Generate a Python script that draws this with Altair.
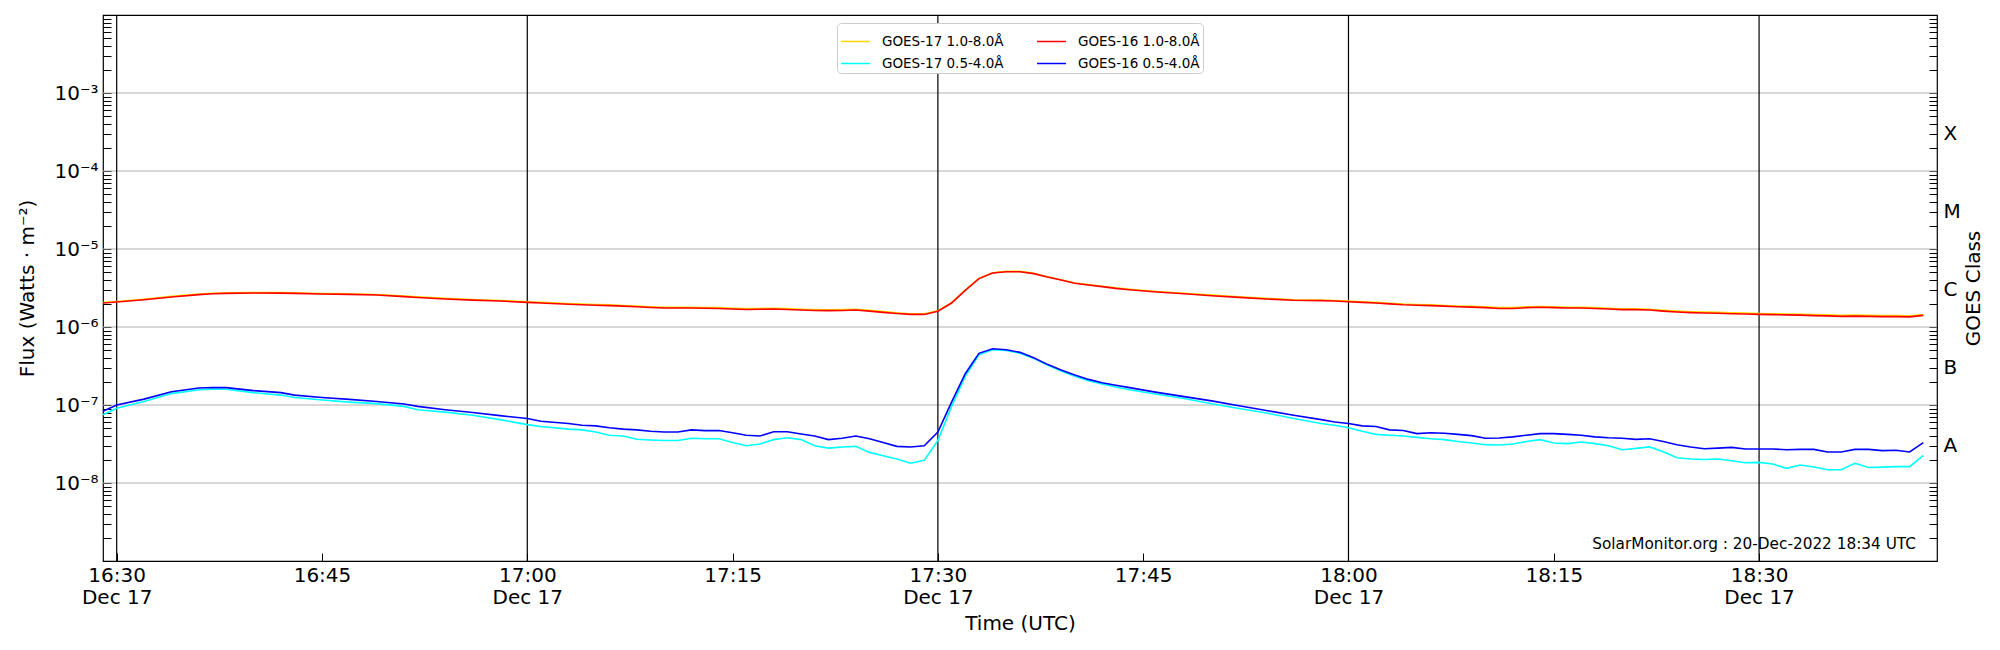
import altair as alt
import pandas as pd

# minutes after 16:30 UTC, 17 Dec 2022
minutes = [-1, 0, 2, 4, 6, 7, 8, 10, 12, 13, 15, 17, 19, 21, 22, 24, 26, 28, 30, 31, 33,
           34, 35, 36, 37, 38, 39, 40, 41, 42, 43, 44, 45, 46, 47, 48, 49, 50, 51, 52, 53,
           54, 55, 56, 57, 58, 59, 60, 61, 62, 63, 64, 65, 66,
           67, 68, 69, 70, 71, 72, 73, 74, 76, 78, 80, 82, 84, 86, 88,
           89, 90, 91, 92, 93, 94, 95, 96, 97, 98, 99, 100,
           101, 102, 103, 104, 105, 106, 107, 108, 109, 110, 111, 112, 113, 114, 115, 116,
           117, 118, 119, 120, 121, 122, 123, 124, 125, 126, 127, 128, 129, 130, 131, 132]

# flux in units of 1e-6 W/m^2
g17_long_e6 = [2.06, 2.12, 2.27, 2.47, 2.64, 2.71, 2.74, 2.77, 2.76, 2.74, 2.69, 2.66, 2.61, 2.49, 2.43, 2.33, 2.25, 2.19, 2.11, 2.07, 2.00,
               1.97, 1.94, 1.92, 1.89, 1.86, 1.82, 1.79, 1.79, 1.79, 1.78, 1.77, 1.74, 1.72, 1.73, 1.74, 1.72, 1.69, 1.67, 1.66, 1.67,
               1.69, 1.64, 1.58, 1.52, 1.48, 1.48, 1.61, 2.05, 2.97, 4.20, 4.96, 5.16, 5.16,
               4.87, 4.41, 4.04, 3.67, 3.49, 3.33, 3.17, 3.05, 2.85, 2.71, 2.56, 2.44, 2.33, 2.24, 2.22,
               2.19, 2.15, 2.11, 2.07, 2.02, 1.97, 1.94, 1.92, 1.89, 1.86, 1.84, 1.81,
               1.77, 1.77, 1.81, 1.83, 1.81, 1.79, 1.79, 1.77, 1.74, 1.71, 1.71, 1.69, 1.64, 1.60, 1.57, 1.55,
               1.54, 1.52, 1.51, 1.49, 1.48, 1.47, 1.46, 1.44, 1.43, 1.41, 1.42, 1.41, 1.40, 1.40, 1.39, 1.44]
g16_long_e6 = [2.03, 2.09, 2.24, 2.43, 2.60, 2.67, 2.70, 2.73, 2.72, 2.70, 2.65, 2.62, 2.57, 2.45, 2.39, 2.29, 2.21, 2.15, 2.07, 2.03, 1.96,
               1.93, 1.90, 1.88, 1.85, 1.82, 1.78, 1.75, 1.75, 1.75, 1.74, 1.73, 1.70, 1.68, 1.69, 1.70, 1.68, 1.65, 1.63, 1.62, 1.63,
               1.65, 1.60, 1.54, 1.49, 1.45, 1.45, 1.59, 2.03, 2.95, 4.17, 4.92, 5.12, 5.12,
               4.83, 4.37, 4.00, 3.63, 3.45, 3.29, 3.13, 3.01, 2.81, 2.67, 2.52, 2.40, 2.29, 2.20, 2.18,
               2.15, 2.11, 2.07, 2.03, 1.98, 1.93, 1.90, 1.88, 1.85, 1.82, 1.80, 1.77,
               1.73, 1.73, 1.77, 1.79, 1.77, 1.75, 1.75, 1.73, 1.70, 1.67, 1.67, 1.65, 1.60, 1.56, 1.53, 1.51,
               1.50, 1.48, 1.47, 1.45, 1.44, 1.43, 1.42, 1.40, 1.39, 1.37, 1.38, 1.37, 1.36, 1.36, 1.35, 1.41]
# flux in units of 1e-7 W/m^2
g17_short_e7 = [0.75, 0.91, 1.11, 1.40, 1.57, 1.60, 1.59, 1.44, 1.34, 1.25, 1.16, 1.09, 1.04, 0.96, 0.87, 0.81, 0.74, 0.65, 0.56, 0.53, 0.49,
                0.48, 0.45, 0.41, 0.40, 0.363, 0.356, 0.35, 0.35, 0.374, 0.37, 0.37, 0.33, 0.30, 0.316, 0.36, 0.38, 0.36, 0.30, 0.28, 0.29,
                0.295, 0.247, 0.224, 0.203, 0.179, 0.195, 0.35, 0.96, 2.33, 4.4, 5.1, 5.0, 4.6,
                3.96, 3.26, 2.73, 2.33, 2.05, 1.86, 1.70, 1.57, 1.37, 1.21, 1.04, 0.90, 0.79, 0.67, 0.58,
                0.55, 0.51, 0.46, 0.42, 0.41, 0.40, 0.385, 0.37, 0.36, 0.34, 0.326, 0.31,
                0.307, 0.316, 0.34, 0.36, 0.326, 0.32, 0.336, 0.32, 0.30, 0.267, 0.278, 0.29, 0.252, 0.211, 0.203, 0.20,
                0.203, 0.193, 0.182, 0.184, 0.175, 0.154, 0.17, 0.16, 0.148, 0.148, 0.179, 0.158, 0.16, 0.162, 0.162, 0.226]
g16_short_e7 = [0.83, 1.00, 1.19, 1.48, 1.65, 1.68, 1.67, 1.53, 1.44, 1.34, 1.25, 1.18, 1.11, 1.03, 0.96, 0.87, 0.80, 0.73, 0.67, 0.62, 0.58,
                0.55, 0.54, 0.51, 0.49, 0.48, 0.46, 0.45, 0.45, 0.48, 0.47, 0.47, 0.44, 0.41, 0.40, 0.455, 0.455, 0.425, 0.40, 0.36, 0.374,
                0.40, 0.37, 0.33, 0.295, 0.29, 0.30, 0.45, 1.09, 2.52, 4.6, 5.27, 5.12, 4.73,
                4.04, 3.32, 2.81, 2.43, 2.13, 1.93, 1.79, 1.67, 1.45, 1.28, 1.13, 0.98, 0.85, 0.74, 0.65,
                0.605, 0.58, 0.54, 0.53, 0.48, 0.47, 0.43, 0.44, 0.435, 0.42, 0.405, 0.374,
                0.378, 0.39, 0.41, 0.43, 0.43, 0.42, 0.41, 0.39, 0.38, 0.374, 0.363, 0.37, 0.34, 0.31, 0.29, 0.275,
                0.28, 0.286, 0.273, 0.273, 0.273, 0.267, 0.27, 0.27, 0.25, 0.25, 0.27, 0.27, 0.26, 0.263, 0.25, 0.33]

# legend order (Vega fills the 2-column legend column by column here)
series_names = ["GOES-17 1.0-8.0Å", "GOES-17 0.5-4.0Å", "GOES-16 1.0-8.0Å", "GOES-16 0.5-4.0Å"]
series_colors = ["#ffd700", "#00ffff", "#ff0000", "#0000ff"]
draw_order = ["GOES-17 1.0-8.0Å", "GOES-17 0.5-4.0Å", "GOES-16 1.0-8.0Å", "GOES-16 0.5-4.0Å"]

decade_exponents = [-8, -7, -6, -5, -4, -3]
class_letters = ["A", "B", "C", "M", "X"]
class_positions = [3e-8, 3e-7, 3e-6, 3e-5, 3e-4]
x_tick_minutes = [0, 15, 30, 45, 60, 75, 90, 105, 120]
vline_minutes = [0, 30, 60, 90, 120]
second_line = "Dec 17"
watermark = ["SolarMonitor.org : 20-Dec-2022 18:34 UTC"]

base = pd.Timestamp("2022-12-17 16:30:00")


def iso(m):
    return (base + pd.Timedelta(minutes=m)).strftime("%Y-%m-%dT%H:%M:%SZ")


def dt(m):
    t = base + pd.Timedelta(minutes=m)
    return alt.DateTime(year=t.year, month=t.month, date=t.day, hours=t.hour, minutes=t.minute, utc=True)


rows = []
for name, vals, unit in [("GOES-17 1.0-8.0Å", g17_long_e6, 1e-6), ("GOES-16 1.0-8.0Å", g16_long_e6, 1e-6),
                         ("GOES-17 0.5-4.0Å", g17_short_e7, 1e-7), ("GOES-16 0.5-4.0Å", g16_short_e7, 1e-7)]:
    for m, v in zip(minutes, vals):
        rows.append({"t": iso(m), "flux": v * unit, "series": name})
df = pd.DataFrame(rows)

decades = [10.0 ** e for e in decade_exponents]
grid_df = pd.DataFrame({"v": decades})
vline_df = pd.DataFrame({"t": [iso(m) for m in vline_minutes]})
wm_df = pd.DataFrame({"label": watermark})

minor_ticks = [k * 10.0 ** e for e in range(-9, -2) for k in range(2, 10)]
left_values = sorted(decades + minor_ticks)
right_values = sorted(decades + minor_ticks)

sup = {-3: "⁻³", -4: "⁻⁴", -5: "⁻⁵", -6: "⁻⁶", -7: "⁻⁷", -8: "⁻⁸"}
lg = "(log(datum.value)/LN10)"
inner = "''"
for e in decade_exponents:
    inner = f"(round({lg}) == {e} ? '10{sup[e]}' : {inner})"
left_expr = f"abs({lg} - round({lg})) < 0.001 ? {inner} : ''"

right_expr = "''"
for letter, pos in zip(class_letters, class_positions):
    right_expr = f"(abs(datum.value / {pos} - 1) < 0.001 ? '{letter}' : {right_expr})"

x_expr = (f"utcminutes(datum.value) % 30 == 0 ? [utcFormat(datum.value, '%H:%M'), '{second_line}'] "
          f": utcFormat(datum.value, '%H:%M')")

W, H = 1834, 546

xscale = alt.Scale(type="utc", domain=[dt(-1), dt(133)])
yscale = alt.Scale(type="log", domain=[1e-9, 1e-2], nice=False)

x_axis = alt.Axis(values=[dt(m) for m in x_tick_minutes], labelExpr=x_expr, tickSize=8, offset=-8,
                  labelPadding=4, labelLineHeight=22.5, labelFlush=False, labelOverlap=False,
                  title="Time (UTC)", titlePadding=6, domain=False, grid=False)
left_axis = alt.Axis(orient="left", values=left_values, labelExpr=left_expr, tickSize=8, offset=-8,
                     labelPadding=5, labelFlush=False, labelOverlap=False, domain=False, grid=False,
                     title="Flux (Watts · m⁻²)", titlePadding=16)
right_axis = alt.Axis(orient="right", values=right_values, labelExpr=right_expr, tickSize=8, offset=-8,
                      labelPadding=6, labelFlush=False, labelOverlap=False, domain=False, grid=False,
                      title="GOES Class", titleAngle=270, titleBaseline="top", titlePadding=3)

legend = alt.Legend(title=None, orient="none", legendX=734, legendY=8, columns=2,
                    symbolType="stroke", symbolSize=841, symbolStrokeWidth=1.5,
                    labelFontSize=13.5, labelFont="DejaVu Sans", labelOffset=11, labelLimit=0,
                    columnPadding=30, rowPadding=0, padding=3,
                    strokeColor="#cccccc", fillColor="white", cornerRadius=4)

color = alt.Color("series:N", scale=alt.Scale(domain=series_names, range=series_colors), legend=legend)

grid = alt.Chart(grid_df).mark_rule(color="#b0b0b0", strokeWidth=1).encode(
    y=alt.Y("v:Q", scale=yscale, axis=left_axis))
vlines = alt.Chart(vline_df).mark_rule(color="black", strokeWidth=1.2).encode(
    x=alt.X("t:T", scale=xscale, axis=x_axis))

layers = [grid, vlines]
for name in draw_order:
    ax = right_axis if name == draw_order[-1] else None
    layers.append(
        alt.Chart(df).transform_filter(alt.datum.series == name).mark_line(strokeWidth=1.6).encode(
            x=alt.X("t:T", scale=xscale, axis=x_axis),
            y=alt.Y("flux:Q", scale=yscale, axis=ax),
            color=color,
        )
    )

wm = alt.Chart(wm_df).mark_text(align="right", baseline="alphabetic", fontSize=15.3, font="DejaVu Sans",
                                color="black").encode(x=alt.value(W - 21), y=alt.value(H - 12), text="label:N")
layers.append(wm)

chart = alt.layer(*layers).resolve_axis(y="independent").properties(
    width=W, height=H,
    autosize=alt.AutoSizeParams(type="none"),
    padding={"left": 95, "top": 7, "right": 55, "bottom": 81},
).configure(font="DejaVu Sans", background="white").configure_view(
    stroke="black", strokeWidth=1.2
).configure_axis(
    labelFont="DejaVu Sans", titleFont="DejaVu Sans", labelFontSize=20, titleFontSize=20,
    titleFontWeight="normal", labelColor="black", titleColor="black", tickColor="black", tickWidth=1,
)

chart.save("out.html", embed_options={"renderer": "svg", "actions": False})
